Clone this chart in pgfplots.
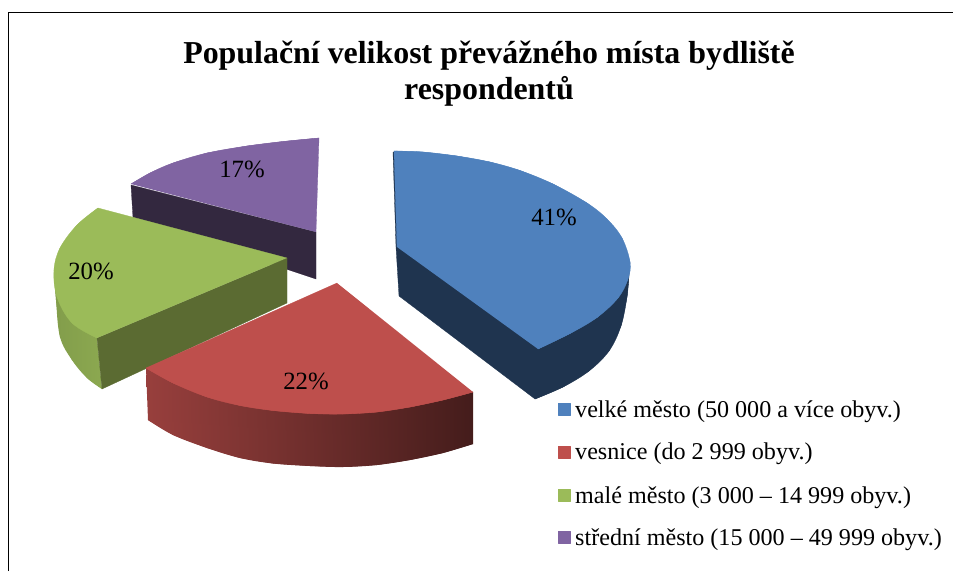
\documentclass[border=0pt]{standalone}
\usepackage{pgfplots}
\usepackage{fontspec}
\setmainfont{Liberation Serif}
\pgfplotsset{compat=1.18}
\definecolor{bt}{HTML}{4F81BD}\definecolor{bd}{HTML}{1F344F}
\definecolor{rt}{HTML}{BE4F4C}
\definecolor{gt}{HTML}{9BBB59}\definecolor{gd}{HTML}{5B6B32}
\definecolor{pt}{HTML}{8064A2}\definecolor{pd}{HTML}{33283F}
\begin{document}
\begin{tikzpicture}
\useasboundingbox (0,0) rectangle (953pt,571pt);
\begin{axis}[at={(0,0)},anchor=south west,scale only axis,width=953pt,height=571pt,xmin=0,xmax=953,ymin=0,ymax=571,y dir=reverse,axis lines=none,clip=true,
 every axis plot/.append style={line width=.3pt,line join=round},
 arc/.style={smooth,tension=0.6}]
% frame
\addplot[black,line width=1.8pt,line join=miter] coordinates {(8.5,571)(8.5,12.5)(953,12.5)};
% purple
\addplot[fill=pd,draw=pd] coordinates {(131,185)(316,232)(316,279)(133,218)(131,185)};
\addplot[fill=pt,draw=pt] coordinates {(316,232)(319,138)(283,141.5)(247,146)(207,153)(173,163)(150,173)(131,184)};
\addplot[fill=pt,draw=pt,arc] coordinates {(319,138)(283,141.5)(247,146)(207,153)(173,163)(150,173)(131,184)};
% green
\addplot[left color=gt!84!black,right color=gt!90!black,draw=none] coordinates {(54,270)(56,300)(60,337)(72,360)(87,378)(102,389)(97,338)};
\addplot[left color=gt!84!black,right color=gt!90!black,draw=none,arc] coordinates {(54,270)(56,300)(60,337)(72,360)(87,378)(102,389)};
\addplot[fill=gd,draw=gd] coordinates {(97,338)(287,258)(287,303)(102,389)(97,338)};
\addplot[fill=gt,draw=gt] coordinates {(287,258)(98,208)(77,225)(60,248)(54,270)(57,297)(72,323)(97,338)};
\addplot[fill=gt,draw=gt,arc] coordinates {(98,208)(77,225)(60,248)(54,270)(57,297)(72,323)(97,338)};
% red
\addplot[left color=rt!80!black,right color=rt!36!black,draw=none] coordinates {(146,368)(148,420)(173,435)(207,448)(240,458)(273,463.5)(310,466)(343,467)(377,465)(410,460)(443,453)(473,444)(473,392)};
\addplot[left color=rt!80!black,right color=rt!36!black,draw=none,arc] coordinates {(148,420)(173,435)(207,448)(240,458)(273,463.5)(310,466)(343,467)(377,465)(410,460)(443,453)(473,444)};
\addplot[fill=rt,draw=rt] coordinates {(337,283)(146,368)(173,383)(207,397)(240,405.5)(273,410.5)(310,413.5)(343,414)(377,412)(410,407)(443,400)(473,392)};
\addplot[fill=rt,draw=rt,arc] coordinates {(146,368)(173,383)(207,397)(240,405.5)(273,410.5)(310,413.5)(343,414)(377,412)(410,407)(443,400)(473,392)};
% blue
\addplot[fill=bd,draw=bd] coordinates {(393,152)(396,247)(399,296)(535,399)(563,387)(589,371)(609,351)(621,326)(627,297)(629,275)(630,262)(396,151)};
\addplot[fill=bd,draw=bd,arc] coordinates {(535,399)(563,387)(589,371)(609,351)(621,326)(627,297)(629,275)};
\addplot[fill=bt,draw=bt] coordinates {(397,247)(394,151)(423,152)(457,156)(490,162)(520,170.5)(553,184)(587,203)(607,219)(622,238)(630,262)(628,279)(618,298)(597,317.5)(570,333.5)(538,349)};
\addplot[fill=bt,draw=bt,arc] coordinates {(394,151)(423,152)(457,156)(490,162)(520,170.5)(553,184)(587,203)(607,219)(622,238)(630,262)(628,279)(618,298)(597,317.5)(570,333.5)(538,349)};
% legend keys
\addplot[only marks,mark=square*,mark size=6pt,mark options={fill=bt,draw=bt}] coordinates {(564,409)};
\addplot[only marks,mark=square*,mark size=6pt,mark options={fill=rt,draw=rt}] coordinates {(564,452)};
\addplot[only marks,mark=square*,mark size=6pt,mark options={fill=gt,draw=gt}] coordinates {(564,495)};
\addplot[only marks,mark=square*,mark size=6pt,mark options={fill=pt,draw=pt}] coordinates {(564,537)};
% texts
\node[anchor=base,font=\fontsize{31.9}{36}\selectfont\bfseries,inner sep=0pt] at (axis cs:489,63) {Populační velikost převážného místa bydliště};
\node[anchor=base,font=\fontsize{31.9}{36}\selectfont\bfseries,inner sep=0pt] at (axis cs:489,99) {respondentů};
\node[anchor=base,font=\fontsize{24.8}{28}\selectfont,inner sep=0pt] at (axis cs:554,225) {41\%};
\node[anchor=base,font=\fontsize{24.8}{28}\selectfont,inner sep=0pt] at (axis cs:242,177) {17\%};
\node[anchor=base,font=\fontsize{24.8}{28}\selectfont,inner sep=0pt] at (axis cs:91,279) {20\%};
\node[anchor=base,font=\fontsize{24.8}{28}\selectfont,inner sep=0pt] at (axis cs:306,389) {22\%};
\node[anchor=base west,font=\fontsize{24.1}{26}\selectfont,inner sep=0pt] at (axis cs:575,417) {velké město (50 000 a více obyv.)};
\node[anchor=base west,font=\fontsize{24.1}{26}\selectfont,inner sep=0pt] at (axis cs:575,459) {vesnice (do 2 999 obyv.)};
\node[anchor=base west,font=\fontsize{24.1}{26}\selectfont,inner sep=0pt] at (axis cs:575,503) {malé město (3 000 – 14 999 obyv.)};
\node[anchor=base west,font=\fontsize{24.1}{26}\selectfont,inner sep=0pt] at (axis cs:575,545) {střední město (15 000 – 49 999 obyv.)};
\end{axis}
\end{tikzpicture}
\end{document}
